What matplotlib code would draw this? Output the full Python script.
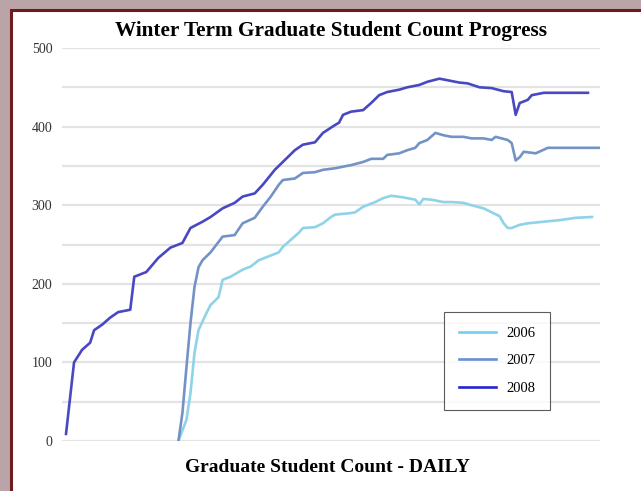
import numpy as np
import matplotlib.pyplot as plt
from matplotlib.patches import Rectangle

# dias (indice diario) y cantidad de estudiantes por anio
dias_2008 = [1, 3, 4, 5, 7, 8, 10, 12, 14, 17, 18, 21, 24, 27, 28, 30, 32, 35, 37, 40,
             43, 45, 48, 50, 53, 55, 58, 60, 63, 65, 68, 69, 70, 72, 75, 77, 79, 81, 84,
             86, 89, 91, 94, 96, 99, 101, 104, 107, 110, 112, 113, 114, 116, 117, 120,
             125, 131]
cant_2008 = [9, 100, 108, 116, 125, 141, 148, 157, 164, 167, 209, 215, 233, 246, 248, 252,
             271, 279, 285, 296, 303, 311, 315, 326, 345, 355, 370, 377, 380, 392, 402, 405,
             415, 419, 421, 430, 440, 444, 447, 450, 453, 457, 461, 459, 456, 455, 450, 449,
             445, 444, 415, 430, 434, 440, 443, 443, 443]

dias_2007 = [29, 30, 31, 32, 33, 34, 35, 37, 40, 43, 45, 48, 50, 52, 54, 55, 58, 60, 63,
             65, 68, 70, 72, 75, 77, 80, 81, 84, 86, 88, 89, 91, 93, 95, 97, 100, 102, 105,
             107, 108, 111, 112, 113, 114, 115, 118, 121, 134]
cant_2007 = [0, 36, 94, 150, 196, 221, 230, 240, 260, 262, 277, 284, 298, 311, 326, 332,
             334, 341, 342, 345, 347, 349, 351, 355, 359, 359, 364, 366, 370, 373, 379, 383,
             392, 389, 387, 387, 385, 385, 383, 387, 383, 379, 357, 361, 368, 366, 373, 373]

dias_2006 = [29, 31, 32, 33, 34, 36, 37, 39, 40, 42, 45, 47, 49, 51, 54, 55, 57, 59, 60,
             63, 65, 67, 68, 72, 73, 75, 78, 80, 82, 85, 87, 88, 89, 90, 92, 95, 97, 100,
             102, 105, 107, 109, 110, 111, 112, 114, 116, 120, 124, 128, 132]
cant_2006 = [0, 27, 61, 112, 141, 163, 173, 183, 205, 209, 218, 222, 230, 234, 240, 247,
             256, 265, 271, 272, 277, 285, 288, 290, 291, 298, 304, 309, 312, 310, 308, 307,
             301, 308, 307, 304, 304, 303, 300, 296, 291, 286, 277, 271, 271, 275, 277, 279,
             281, 284, 285]

serif = ['Liberation Serif', 'DejaVu Serif']

fig = plt.figure(figsize=(6.41, 4.91), dpi=100, facecolor='#bba4a7')
fig.patches.append(Rectangle((10.5/641, -0.05), 1.0, (491-10.5)/491 + 0.05,
                             transform=fig.transFigure, facecolor='white',
                             edgecolor='#6d1b1d', lw=2.2, zorder=-5))

ax = fig.add_axes([62/641, 50/491, 538/641, 393/491])
ax.set_facecolor('none')

for y in range(0, 501, 50):
    ax.axhline(y, color='#e3e3e3', lw=1.6, zorder=0)

ax.plot(dias_2006, cant_2006, color='#8fd3e8', lw=1.9, label='2006', solid_joinstyle='round')
ax.plot(dias_2007, cant_2007, color='#7392c6', lw=1.9, label='2007', solid_joinstyle='round')
ax.plot(dias_2008, cant_2008, color='#4848c2', lw=1.9, label='2008', solid_joinstyle='round')

ax.set_xlim(0, 134)
ax.set_ylim(0, 500)
ax.set_xticks([])
ax.set_yticks(range(0, 501, 100))
ax.tick_params(axis='y', length=0, pad=7, labelsize=10, labelcolor='#333333')
for lbl in ax.get_yticklabels():
    lbl.set_family(serif)
for s in ax.spines.values():
    s.set_visible(False)

leg = ax.legend(loc='lower left', bbox_to_anchor=(0.71, 0.08), frameon=True,
                fancybox=False, edgecolor='#333333', prop={'family': serif, 'size': 10.5},
                handlelength=2.55, labelspacing=0.99, borderpad=1.0, handletextpad=0.7,
                borderaxespad=0)
leg.get_frame().set_linewidth(0.8)
leg.legend_handles[0].set_color('#6fd0f2')
leg.legend_handles[1].set_color('#6a90cc')
leg.legend_handles[2].set_color('#2424d0')

fig.text(331/641, 1 - 31/491, 'Winter Term Graduate Student Count Progress',
         ha='center', va='center', fontsize=15.3, fontweight='bold', family=serif)
fig.text(327/641, 1 - 468/491, 'Graduate Student Count - DAILY',
         ha='center', va='center', fontsize=14, fontweight='bold', family=serif)

fig.savefig('out.png', dpi=100, facecolor=fig.get_facecolor())
